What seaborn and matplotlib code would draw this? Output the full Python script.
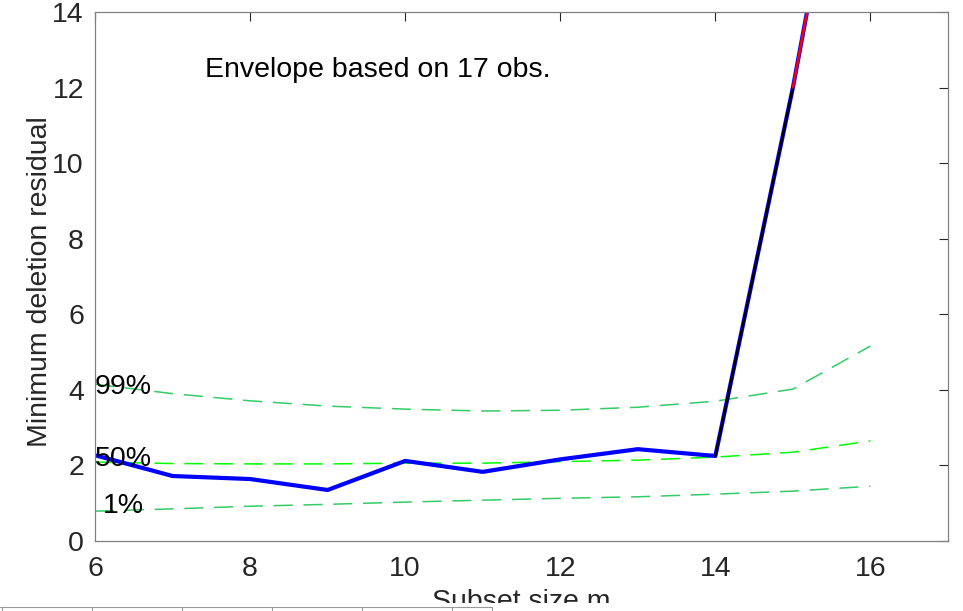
import numpy as np
import pandas as pd
import matplotlib
matplotlib.use("Agg")
import matplotlib.pyplot as plt
from matplotlib.lines import Line2D
from matplotlib.patches import Rectangle
import seaborn as sns

# Subset sizes and the monitored minimum deletion residual
subset_m = [6, 7, 8, 9, 10, 11, 12, 13, 14, 15, 16]
mdr = [2.27, 1.72, 1.64, 1.35, 2.12, 1.83, 2.16, 2.43, 2.25, 12.0, 23.0]

# Simulated envelopes (1%, 50%, 99%) for n = 17
env_01 = [0.79, 0.85, 0.92, 0.97, 1.03, 1.08, 1.13, 1.17, 1.24, 1.32, 1.45]
env_50 = [2.09, 2.05, 2.04, 2.04, 2.06, 2.06, 2.10, 2.14, 2.22, 2.35, 2.65]
env_99 = [4.15, 3.90, 3.71, 3.57, 3.49, 3.44, 3.46, 3.54, 3.70, 4.02, 5.16]

quantile_labels = ["1%", "50%", "99%"]
xticks = [6, 8, 10, 12, 14, 16]
yticks = [0, 2, 4, 6, 8, 10, 12, 14]

sns.set_theme(style="white")
plt.rcParams["font.family"] = ["Liberation Sans", "DejaVu Sans"]

FS = 20.5
W, H = 963, 611
fig = plt.figure(figsize=(W / 100, H / 100), dpi=100)
ax = fig.add_axes([95 / W, (H - 541) / H, 853 / W, 529 / H])

env = pd.DataFrame({
    "m": subset_m * 3,
    "value": env_01 + env_50 + env_99,
    "quantile": sum([[q] * len(subset_m) for q in quantile_labels], []),
})
dash = (0, (12.5, 7.0))
env_colors = {"1%": (0.2, 0.8, 0.4), "50%": "#00ff00", "99%": (0.2, 0.8, 0.4)}
for q in quantile_labels:
    sub = env[env["quantile"] == q]
    sns.lineplot(data=sub, x="m", y="value", ax=ax, color=env_colors[q],
                 linewidth=1.1, linestyle=dash, legend=False)

traj = pd.DataFrame({"m": subset_m, "mdr": mdr})
sns.lineplot(data=traj, x="m", y="mdr", ax=ax, color="#0000ff",
             linewidth=3.0, legend=False)
# Steps where the residual leaves the envelope
sns.lineplot(data=traj.iloc[8:10], x="m", y="mdr", ax=ax, color="black",
             linewidth=1.8, legend=False)
sns.lineplot(data=traj.iloc[9:11], x="m", y="mdr", ax=ax, color="red",
             linewidth=1.8, legend=False)

# Quantile labels at the start of the search
label_pos = {"99%": 4.07, "50%": 2.17, "1%": 0.93}
for q in quantile_labels:
    ax.text(6.36, label_pos[q], q, ha="center", va="center",
            fontsize=FS, color="black")

ax.text(7.42, 12.46, "Envelope based on 17 obs.", ha="left", va="center",
        fontsize=FS, color="black")

ax.set_xlim(6, 17)
ax.set_ylim(0, 14)
ax.set_xticks(xticks)
ax.set_yticks(yticks)
ax.set_xlabel("Subset size m", fontsize=FS, color="#262626")
ax.set_ylabel("Minimum deletion residual", fontsize=FS, color="#262626")
ax.xaxis.set_label_coords(0.5, -0.091)
ax.yaxis.set_label_coords(-0.049, 0.49)

for s in ax.spines.values():
    s.set_color("#808080")
    s.set_linewidth(0.9)
ax.tick_params(direction="in", length=6.5, width=0.8, color="#262626",
               labelsize=FS, labelcolor="#262626", top=True, right=True)
ax.tick_params(axis="x", pad=11)
ax.tick_params(axis="y", pad=8)

# Header strip along the bottom edge of the window
fig.add_artist(Rectangle((0, 0), 1, 8 / H, transform=fig.transFigure,
                         facecolor="white", edgecolor="none", zorder=5))
fig.add_artist(Line2D([0, 492 / W], [4 / H, 4 / H], transform=fig.transFigure,
                      color="#9a9a9a", linewidth=0.8, zorder=6))
for px in [2, 92, 182, 272, 362, 452, 492]:
    fig.add_artist(Line2D([px / W, px / W], [0, 4 / H],
                          transform=fig.transFigure, color="#9a9a9a",
                          linewidth=0.8, zorder=6))

fig.savefig("out.png", dpi=100)
